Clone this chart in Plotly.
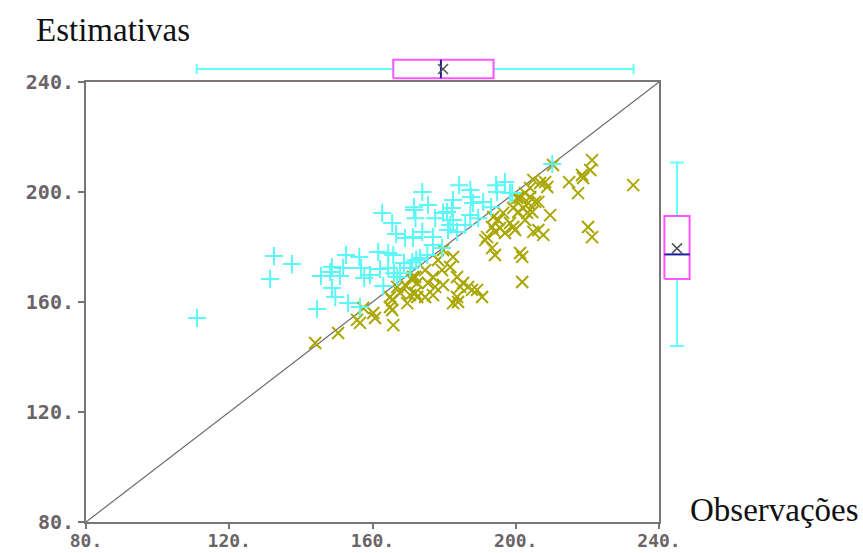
import plotly.graph_objects as go

# ---------------- data ----------------
# Points above the identity line (cyan "+")
over_obs = [111.0, 132.5, 137.5, 131.4, 162.7, 171.6, 172.0, 165.5, 166.6, 169.1, 171.3,
            152.6, 156.3, 161.6, 164.4, 165.8, 148.7, 151.8, 145.6, 148.2, 150.9, 156.8,
            157.7, 159.3, 162.1, 164.4, 166.0, 166.9, 167.7, 163.0, 148.7, 149.6, 153.2,
            156.5, 144.5, 170.5, 172.2, 184.2, 187.3, 187.5, 194.5, 197.0, 198.4, 194.8,
            173.9, 175.5, 182.5, 182.2, 180.8, 179.7, 177.5, 182.5, 188.1, 190.9, 193.1,
            187.3, 189.5, 171.6, 171.3, 173.9, 176.9, 176.9, 181.1, 183.6, 185.9, 181.7,
            173.3, 175.3, 179.4, 171.1, 210.2, 199.0, 168.8]
over_est = [154.2, 176.7, 173.8, 168.4, 192.4, 193.5, 190.5, 188.7, 184.7, 183.3, 183.3,
            177.1, 176.4, 178.2, 177.8, 177.1, 172.7, 172.4, 169.5, 170.9, 169.5, 172.4,
            168.7, 169.8, 172.0, 172.4, 170.5, 169.1, 170.5, 165.8, 165.1, 161.8, 159.6,
            158.2, 157.5, 172.4, 175.3, 202.5, 200.7, 198.2, 202.5, 203.6, 199.6, 200.0,
            200.0, 195.3, 197.1, 194.2, 192.7, 192.4, 190.5, 189.8, 196.0, 196.4, 194.5,
            191.6, 190.5, 194.5, 183.6, 185.5, 183.6, 180.7, 186.2, 185.5, 188.0, 188.0,
            176.0, 177.1, 179.6, 174.5, 210.2, 199.6, 174.2]

# Points below the identity line (olive "x")
under_obs = [144.0, 150.4, 155.7, 156.5, 157.4, 160.2, 160.7, 164.9, 165.5, 165.8, 164.9,
             167.7, 169.7, 169.1, 171.1, 171.9, 166.9, 172.5, 165.5, 171.3, 172.5, 171.9,
             174.7, 175.5, 176.9, 178.3, 179.7, 179.4, 174.7, 176.9, 177.5, 181.7, 182.5,
             183.6, 184.5, 183.6, 185.3, 186.7, 187.8, 189.2, 190.6, 182.5, 183.9, 179.7,
             170.5, 191.5, 192.0, 193.4, 194.2, 193.7, 195.1, 195.6, 196.5, 197.0, 198.4,
             199.3, 200.4, 193.4, 194.2, 210.4, 221.3, 220.8, 218.5, 218.8, 214.9, 217.4,
             232.8, 208.2, 206.8, 204.9, 204.0, 208.8, 202.6, 201.2, 204.0, 205.4, 203.5,
             202.1, 203.2, 204.6, 206.3, 202.6, 200.7, 209.6, 199.3, 199.8, 204.9, 206.3,
             207.7, 220.2, 221.3, 201.2, 201.8, 201.8]
under_est = [145.1, 148.7, 153.5, 152.4, 157.8, 156.0, 154.2, 161.8, 157.1, 151.6, 158.2,
             163.3, 159.6, 166.2, 168.0, 169.1, 165.5, 161.8, 160.7, 169.1, 166.9, 163.3,
             171.6, 166.9, 169.1, 175.3, 178.9, 171.6, 161.8, 162.5, 165.5, 172.7, 176.4,
             169.1, 165.5, 161.8, 166.9, 165.5, 164.4, 164.4, 161.8, 159.6, 160.0, 166.2,
             162.5, 182.5, 183.6, 179.6, 177.1, 190.9, 189.8, 186.9, 192.4, 185.1, 188.7,
             194.2, 197.8, 187.3, 185.5, 209.8, 211.6, 208.0, 206.2, 205.1, 203.6, 199.6,
             202.5, 203.6, 203.3, 204.4, 201.5, 201.8, 199.6, 197.8, 198.2, 196.4, 196.0,
             194.2, 192.4, 192.7, 196.4, 189.8, 192.7, 191.6, 187.3, 186.2, 185.5, 186.2,
             184.4, 187.3, 183.6, 177.8, 176.4, 167.3]

# Box-plot summaries: [min, q1, median, q3, max, mean]
obs_stats = [110.9, 165.8, 179.1, 193.8, 232.9, 179.7]
est_stats = [144.0, 168.4, 177.3, 191.3, 210.7, 179.5]

axis_range = [80, 240]
tick_vals = [80, 120, 160, 200, 240]
tick_text = ["80.", "120.", "160.", "200.", "240."]

# ---------------- figure ----------------
W, H = 863, 553
def fx(p): return p / W
def fy(p): return 1 - p / H

CYAN = "#5cf7f7"
OLIVE = "#a9a700"
MAG = "#ff55ff"
WHISK = "#66ffff"
MED = "#1a1aa0"
GRAY = "#7a7478"
XTICKFONT = dict(family="DejaVu Sans Mono", size=18, color="#6a6468", weight="bold")
YTICKFONT = dict(family="DejaVu Sans Mono", size=20, color="#6a6468", weight="bold")

fig = go.Figure()

# identity line
fig.add_trace(go.Scatter(x=axis_range, y=axis_range, mode="lines",
                         line=dict(color="#6c6870", width=1.2), hoverinfo="skip"))
fig.add_trace(go.Scatter(x=under_obs, y=under_est, mode="markers",
                         marker=dict(symbol="x-thin", size=12, color=OLIVE,
                                     line=dict(color=OLIVE, width=2))))
fig.add_trace(go.Scatter(x=over_obs, y=over_est, mode="markers",
                         marker=dict(symbol="cross-thin", size=13, color=CYAN,
                                     line=dict(color=CYAN, width=2))))

def box_traces(stats, horizontal, axref):
    mn, q1, md, q3, mx, mean = stats
    c, hb, hc = 0.5, 0.42, 0.23
    traces = []
    wv = [mn, q1, None, q3, mx]
    wp = [c, c, None, c, c]
    cv = [mn, mn, None, mx, mx]
    cp = [c - hc, c + hc, None, c - hc, c + hc]
    bv = [q1, q3, q3, q1, q1]
    bp = [c - hb, c - hb, c + hb, c + hb, c - hb]
    mv = [md, md]
    mp = [c - hb, c + hb]
    items = [(wv, wp, WHISK, 2), (cv, cp, WHISK, 2), (bv, bp, MAG, 2), (mv, mp, MED, 2)]
    for v, p, col, w in items:
        if horizontal:
            traces.append(go.Scatter(x=v, y=p, mode="lines", line=dict(color=col, width=w),
                                     yaxis=axref, hoverinfo="skip"))
        else:
            traces.append(go.Scatter(x=p, y=v, mode="lines", line=dict(color=col, width=w),
                                     xaxis=axref, hoverinfo="skip"))
    mk = dict(symbol="x-thin", size=10, color="#555", line=dict(color="#555", width=1.5))
    if horizontal:
        traces.append(go.Scatter(x=[mean], y=[c], mode="markers", marker=mk, yaxis=axref))
    else:
        traces.append(go.Scatter(x=[c], y=[mean], mode="markers", marker=mk, xaxis=axref))
    return traces

for t in box_traces(obs_stats, True, "y2"):
    fig.add_trace(t)
for t in box_traces(est_stats, False, "x2"):
    fig.add_trace(t)

fig.update_layout(
    width=W, height=H, margin=dict(l=0, r=0, t=0, b=0),
    paper_bgcolor="white", plot_bgcolor="white", showlegend=False,
    xaxis=dict(domain=[fx(86), fx(659)], range=axis_range, tickvals=tick_vals,
               ticktext=tick_text, ticks="outside", ticklen=5, tickcolor=GRAY, tickwidth=2,
               showline=True, linecolor=GRAY, linewidth=2, mirror=True, showgrid=False,
               zeroline=False, tickfont=XTICKFONT, automargin=False, ticklabelstandoff=-4),
    yaxis=dict(domain=[fy(522), fy(82)], range=axis_range, tickvals=tick_vals,
               ticktext=tick_text, ticks="outside", ticklen=6, tickcolor=GRAY, tickwidth=2,
               showline=True, linecolor=GRAY, linewidth=2, mirror=True, showgrid=False,
               zeroline=False, tickfont=YTICKFONT, automargin=False),
    yaxis2=dict(domain=[fy(80), fy(58)], range=[0, 1], anchor="x", visible=False),
    xaxis2=dict(domain=[fx(662), fx(692)], range=[0, 1], anchor="y", visible=False),
    annotations=[
        dict(text="Estimativas", x=fx(34), y=fy(30), xref="paper", yref="paper",
             xanchor="left", yanchor="middle", showarrow=False,
             font=dict(family="Liberation Serif", size=33, color="#111")),
        dict(text="Observações", x=fx(688), y=fy(510), xref="paper", yref="paper",
             xanchor="left", yanchor="middle", showarrow=False,
             font=dict(family="Liberation Serif", size=33, color="#111")),
    ],
)

fig.write_html("out.html")
